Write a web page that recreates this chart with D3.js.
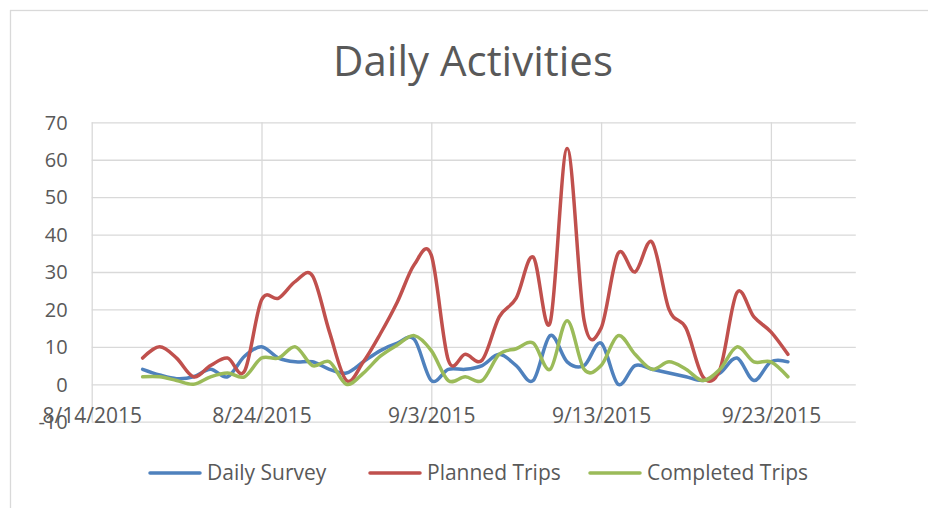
<!DOCTYPE html>
<html>
<head>
<meta charset="utf-8">
<script src="https://cdn.jsdelivr.net/npm/d3@7"></script>
<style>
html,body{margin:0;padding:0;background:#fff;}
svg{display:block;}
text{font-family:"Open Sans","Noto Sans",sans-serif;fill:#595959;}
</style>
</head>
<body>
<svg id="chart" width="928" height="508"></svg>
<script>
const title = "Daily Activities";
const startDate = "2015-08-17";
const seriesNames = ["Daily Survey", "Planned Trips", "Completed Trips"];
const seriesColors = ["#4f81bd", "#c0504d", "#9bbb59"];
const dailySurvey = [4, 2.5, 1.5, 2, 4, 2, 7.5, 10, 7, 6, 6, 4, 3, 6, 9, 11, 12, 1, 4, 4, 5, 8, 5, 1, 13, 6, 5, 11, 0, 5, 4, 3, 2, 1, 3, 7, 1, 6, 6];
const plannedTrips = [7, 10, 7, 2, 5, 7, 3.5, 22.5, 23, 27.5, 29, 14, 1, 6, 13.5, 22, 32, 34.5, 6.5, 8, 6.5, 18, 23, 34, 16.5, 63, 17, 15, 35, 30, 38, 20, 15, 2, 4, 24.5, 18, 14, 8];
const completedTrips = [2, 2, 1, 0, 2, 3, 2, 7, 7, 10, 5, 6, 0, 3, 7.5, 10.5, 13, 9, 1, 2, 1, 8, 9.5, 11, 4, 17, 4, 5, 13, 8, 4, 6, 4, 1, 4, 10, 6, 6, 2];
const xTickLabels = ["8/14/2015", "8/24/2015", "9/3/2015", "9/13/2015", "9/23/2015"];
const yTickValues = [-10, 0, 10, 20, 30, 40, 50, 60, 70];
const xDomain = ["2015-08-14", "2015-09-28"];

const svg = d3.select("#chart");
const plot = {left: 91.7, right: 855.8, top: 122.3, bottom: 421.7};

// outer chart border
svg.append("rect").attr("x", 10.5).attr("y", 10.5).attr("width", 940).attr("height", 520)
  .attr("fill", "none").attr("stroke", "#d9d9d9").attr("stroke-width", 1.3);

const parse = d3.utcParse("%Y-%m-%d");
const x = d3.scaleUtc().domain(xDomain.map(parse)).range([plot.left, plot.right]);
const y = d3.scaleLinear().domain([-10, 70]).range([plot.bottom, plot.top]);

const t0 = parse(startDate);
const dates = dailySurvey.map((_, i) => d3.utcDay.offset(t0, i));
const xTickDates = xTickLabels.map(s => d3.utcParse("%m/%d/%Y")(s));

// horizontal gridlines
const yAxis = d3.axisLeft(y).tickValues(yTickValues).tickSize(-(plot.right - plot.left)).tickFormat(d => String(d));
const gy = svg.append("g").attr("transform", `translate(${plot.left},0)`).call(yAxis);
gy.select(".domain").remove();
gy.selectAll(".tick line").attr("stroke", "#d9d9d9").attr("stroke-width", 1.3);
gy.selectAll(".tick text").attr("font-size", 20).attr("fill", "#595959").attr("x", -24).attr("dy", "0.34em");

// vertical gridlines
const xAxis = d3.axisBottom(x).tickValues(xTickDates).tickSize(-(plot.bottom - plot.top))
  .tickFormat((d, i) => xTickLabels[i]);
const gx = svg.append("g").attr("transform", `translate(0,${plot.bottom})`).call(xAxis);
gx.select(".domain").remove();
gx.selectAll(".tick line").attr("stroke", "#d9d9d9").attr("stroke-width", 1.3);
gx.selectAll(".tick text").attr("font-size", 21).attr("fill", "#595959").attr("y", 0).attr("dy", "0.05em");

// lines
const seriesData = [dailySurvey, plannedTrips, completedTrips];
const line = d3.line().x((d, i) => x(dates[i])).y(d => y(d)).curve(d3.curveCardinal.tension(0));
seriesData.forEach((vals, k) => {
  svg.append("path").datum(vals).attr("d", line).attr("fill", "none")
    .attr("stroke", seriesColors[k]).attr("stroke-width", 3.5)
    .attr("stroke-linejoin", "round").attr("stroke-linecap", "round");
});

// title
svg.append("text").attr("x", 473).attr("y", 76).attr("text-anchor", "middle")
  .attr("font-size", 42).attr("fill", "#595959").text(title);

// legend
const legendX = [150, 370, 590];
seriesNames.forEach((name, k) => {
  const g = svg.append("g").attr("transform", `translate(${legendX[k]},473)`);
  g.append("line").attr("x1", 0).attr("x2", 50).attr("y1", 0).attr("y2", 0)
    .attr("stroke", seriesColors[k]).attr("stroke-width", 3.5).attr("stroke-linecap", "round");
  g.append("text").attr("x", 57).attr("y", 0).attr("dy", "0.35em").attr("font-size", 21)
    .attr("fill", "#595959").text(name);
});
</script>
</body>
</html>
